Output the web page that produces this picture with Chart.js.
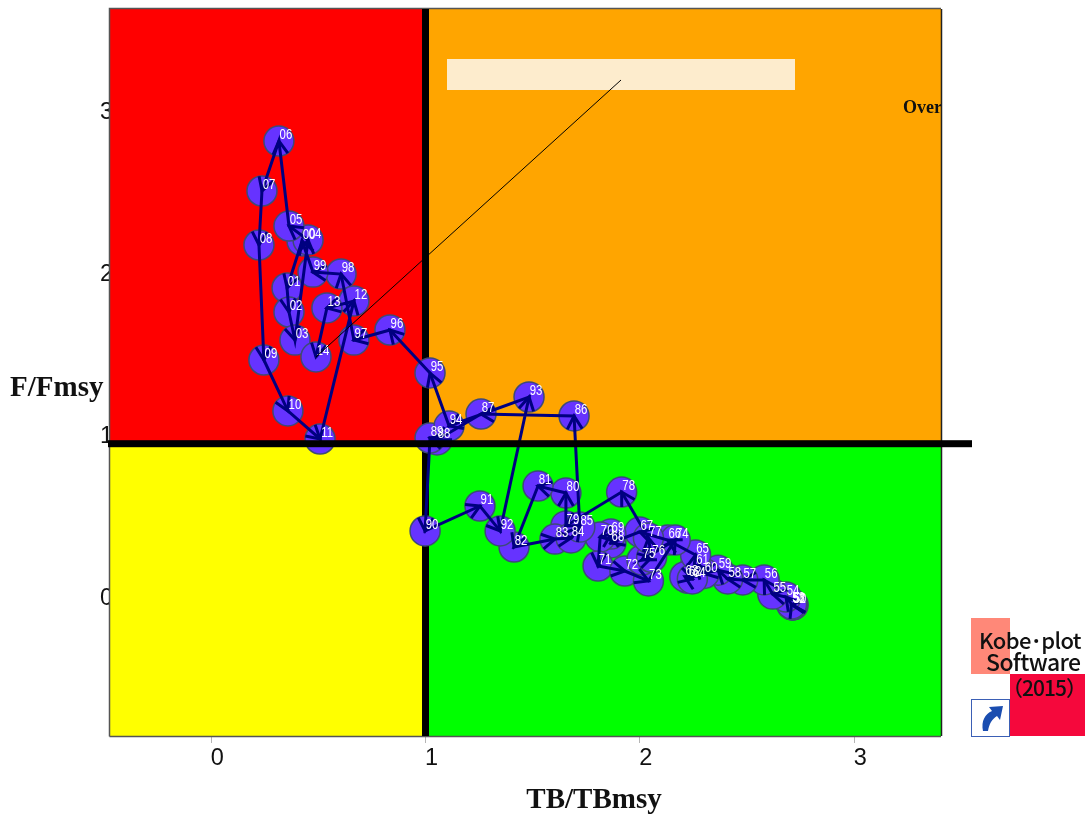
<!DOCTYPE html>
<html>
<head>
<meta charset="utf-8">
<title>Kobe plot</title>
<script src="https://cdn.jsdelivr.net/npm/chart.js@4"></script>
<style>
  body { margin: 0; background: #fff; }
  #wrap { position: relative; width: 1085px; height: 818px; overflow: hidden; }
  canvas { display: block; }
  .logo { position: absolute; }
  .logoText { position: absolute; font-family: "Noto Sans CJK JP"; font-weight: 500; color: #111; white-space: nowrap; line-height: 1; }
</style>
</head>
<body>
<div id="wrap">
  <canvas id="kobeChart" width="1085" height="818"></canvas>
  <div class="logo" style="left:971px;top:618px;width:39px;height:56px;background:#ff8878"></div>
  <div class="logo" style="left:1010px;top:674px;width:75px;height:62px;background:#f5083c"></div>
  <div class="logo" style="left:971px;top:699px;width:37px;height:36px;background:#fff;border:1px solid #3b5fb5"></div>
  <svg class="logo" style="left:971px;top:699px" width="38" height="37" viewBox="0 0 38 37">
    <path d="M12 32 C10 22 14 15 21 12 L18 8 L32 7 L29 21 L26 17 C21 20 18 25 17 32 Z" fill="#1a4db0"/>
  </svg>
  <div class="logoText" style="left:979px;top:628px;font-size:22px;letter-spacing:-0.6px">Kobe･plot</div>
  <div class="logoText" style="left:986px;top:650px;font-size:23px;letter-spacing:-0.6px">Software</div>
  <div class="logoText" style="left:1002px;top:677px;font-size:21px;letter-spacing:-1px">（2015）</div>
</div>
<script>
// ======================== Data ========================
const years = [
  '50', '51', '52', '53', '54', '55', '56', '57', '58', '59',
  '60', '61', '62', '63', '64', '65', '66', '67', '68', '69',
  '70', '71', '72', '73', '74', '75', '76', '77', '78', '79',
  '80', '81', '82', '83', '84', '85', '86', '87', '88', '89',
  '90', '91', '92', '93', '94', '95', '96', '97', '98', '99',
  '00', '01', '02', '03', '04', '05', '06', '07', '08', '09',
  '10', '11', '12', '13', '14'
];
const tbRatio = [
  2.715, 2.712, 2.71, 2.708, 2.682, 2.62, 2.58, 2.48, 2.41, 2.365,
  2.30, 2.26, 2.225, 2.21, 2.245, 2.26, 2.13, 2.00, 1.865, 1.865,
  1.815, 1.805, 1.93, 2.04, 2.165, 2.01, 2.055, 2.04, 1.915, 1.655,
  1.655, 1.525, 1.413, 1.604, 1.679, 1.72, 1.693, 1.259, 1.054, 1.021,
  0.998, 1.254, 1.348, 1.483, 1.11, 1.021, 0.834, 0.666, 0.606, 0.475,
  0.424, 0.354, 0.363, 0.391, 0.452, 0.363, 0.316, 0.237, 0.223, 0.246,
  0.358, 0.508, 0.666, 0.54, 0.489
];
const fRatio = [
  0.006, 0.006, 0.006, 0.012, 0.055, 0.073, 0.16, 0.16, 0.166, 0.22,
  0.20, 0.25, 0.17, 0.18, 0.166, 0.314, 0.406, 0.456, 0.388, 0.443,
  0.425, 0.246, 0.215, 0.154, 0.406, 0.283, 0.30, 0.419, 0.702, 0.493,
  0.696, 0.739, 0.363, 0.412, 0.419, 0.486, 1.171, 1.183, 1.023, 1.035,
  0.462, 0.616, 0.462, 1.288, 1.109, 1.436, 1.701, 1.639, 2.046, 2.058,
  2.25, 1.96, 1.812, 1.639, 2.256, 2.342, 2.866, 2.558, 2.225, 1.516,
  1.202, 1.029, 1.88, 1.837, 1.535
];
const xTicks = [0, 1, 2, 3];
const yTicks = [0, 1, 2, 3];
const xRange = [-0.472, 3.405];
const yRange = [-0.802, 3.68];
const refLine = 1;
const xTitle = 'TB/TBmsy';
const yTitle = 'F/Fmsy';
const overText = 'Over';

const points = years.map((y, i) => ({ x: tbRatio[i], y: fRatio[i] }));

// ======================== Hàm vẽ phụ ========================
function drawArrowHead(ctx, from, to) {
  const angle = Math.atan2(to.y - from.y, to.x - from.x);
  const len = 15;
  const spread = 0.52;
  ctx.beginPath();
  ctx.moveTo(to.x - len * Math.cos(angle - spread), to.y - len * Math.sin(angle - spread));
  ctx.lineTo(to.x, to.y);
  ctx.lineTo(to.x - len * Math.cos(angle + spread), to.y - len * Math.sin(angle + spread));
  ctx.stroke();
}

const quadrantPlugin = {
  id: 'quadrants',
  beforeDatasetsDraw(chart) {
    const { ctx, chartArea: a, scales: { x, y } } = chart;
    const cx = x.getPixelForValue(refLine);
    const cy = y.getPixelForValue(refLine);
    ctx.save();
    ctx.fillStyle = '#ff0000';
    ctx.fillRect(a.left, a.top, cx - a.left, cy - a.top);
    ctx.fillStyle = '#ffa500';
    ctx.fillRect(cx, a.top, a.right - cx, cy - a.top);
    ctx.fillStyle = '#ffff00';
    ctx.fillRect(a.left, cy, cx - a.left, a.bottom - cy);
    ctx.fillStyle = '#00ff00';
    ctx.fillRect(cx, cy, a.right - cx, a.bottom - cy);

    // khung
    ctx.strokeStyle = '#555';
    ctx.lineWidth = 1.5;
    ctx.beginPath();
    ctx.moveTo(a.left - 0.5, a.bottom + 0.5);
    ctx.lineTo(a.left - 0.5, a.top - 0.5);
    ctx.lineTo(a.right, a.top - 0.5);
    ctx.moveTo(a.left - 0.5, a.bottom + 0.5);
    ctx.lineTo(a.right, a.bottom + 0.5);
    ctx.stroke();
    ctx.strokeStyle = '#222';
    ctx.beginPath();
    ctx.moveTo(a.right + 0.5, a.top);
    ctx.lineTo(a.right + 0.5, a.bottom);
    ctx.stroke();

    // ô chú thích
    ctx.fillStyle = '#fdeccd';
    ctx.fillRect(447, 59, 348, 31);

    // chữ Over bị cắt ở mép phải
    ctx.save();
    ctx.beginPath();
    ctx.rect(a.left, a.top, a.right - a.left, a.bottom - a.top);
    ctx.clip();
    ctx.fillStyle = '#111';
    ctx.font = 'bold 18px "Liberation Serif"';
    ctx.textAlign = 'left';
    ctx.textBaseline = 'middle';
    ctx.fillText(overText, 903, 108);
    ctx.restore();

    // đường dọc x = 1
    ctx.fillStyle = '#000';
    ctx.fillRect(cx - 3.5, a.top, 7, a.bottom - a.top);
    ctx.restore();
  },
  afterDatasetsDraw(chart) {
    const { ctx, chartArea: a, scales: { x, y } } = chart;
    const px = points.map(p => ({ x: x.getPixelForValue(p.x), y: y.getPixelForValue(p.y) }));
    ctx.save();

    // mũi tên
    ctx.strokeStyle = '#000080';
    ctx.lineWidth = 3;
    ctx.lineJoin = 'miter';
    for (let i = 1; i < px.length; i++) drawArrowHead(ctx, px[i - 1], px[i]);

    // nhãn năm (chữ hẹp)
    ctx.fillStyle = '#fff';
    ctx.font = '15px "Liberation Sans"';
    ctx.textAlign = 'center';
    ctx.textBaseline = 'middle';
    years.forEach((label, i) => {
      ctx.save();
      ctx.translate(px[i].x + 7, px[i].y - 6);
      ctx.scale(0.76, 1);
      ctx.fillText(label, 0, 0);
      ctx.restore();
    });

    // đường mảnh từ ô chú thích tới năm cuối
    const last = px[px.length - 1];
    ctx.strokeStyle = '#000';
    ctx.lineWidth = 1;
    ctx.beginPath();
    ctx.moveTo(621, 80);
    ctx.lineTo(last.x, last.y);
    ctx.stroke();

    // đường ngang y = 1, kéo dài ra ngoài khung
    ctx.fillStyle = '#000';
    ctx.fillRect(a.left - 2, y.getPixelForValue(refLine) - 3.5, 864, 7);

    // tiêu đề trục
    ctx.fillStyle = '#111';
    ctx.font = 'bold 29px "Liberation Serif"';
    ctx.textBaseline = 'middle';
    ctx.textAlign = 'center';
    ctx.fillText(xTitle, 594, 801);
    ctx.textAlign = 'left';
    ctx.fillText(yTitle, 10, 389);
    ctx.restore();
  }
};

// ======================== Biểu đồ ========================
new Chart(document.getElementById('kobeChart').getContext('2d'), {
  type: 'scatter',
  data: {
    datasets: [
      {
        label: 'path',
        data: points,
        showLine: true,
        borderColor: '#000080',
        borderWidth: 3,
        pointRadius: 0,
        order: 1
      },
      {
        label: 'years',
        data: points,
        showLine: false,
        pointRadius: 15,
        pointBackgroundColor: '#6633ff',
        pointBorderColor: '#3d4a78',
        pointBorderWidth: 1.5,
        order: 2
      }
    ]
  },
  options: {
    responsive: false,
    animation: false,
    layout: { autoPadding: false, padding: { top: 9, right: 144, left: 0, bottom: 0 } },
    plugins: { legend: { display: false }, tooltip: { enabled: false } },
    scales: {
      x: {
        type: 'linear',
        min: xRange[0],
        max: xRange[1],
        afterBuildTicks: scale => { scale.ticks = xTicks.map(v => ({ value: v })); },
        afterFit: scale => {
          scale.height = 82;
          scale.paddingLeft = 0;
          scale.paddingRight = 0;
        },
        grid: { drawOnChartArea: false, tickLength: 7, color: '#b5b5b5', lineWidth: 1 },
        border: { display: false },
        ticks: {
          font: { family: '"Liberation Sans"', size: 23.5 },
          color: '#111',
          maxRotation: 0,
          labelOffset: 6,
          padding: 1
        }
      },
      y: {
        type: 'linear',
        min: yRange[0],
        max: yRange[1],
        afterBuildTicks: scale => { scale.ticks = yTicks.map(v => ({ value: v })); },
        afterFit: scale => {
          scale.width = 110;
          scale.paddingTop = 0;
          scale.paddingBottom = 0;
        },
        grid: { display: false },
        border: { display: false },
        ticks: {
          font: { family: '"Liberation Sans"', size: 23.5 },
          color: '#111',
          labelOffset: -7,
          padding: -11
        }
      }
    }
  },
  plugins: [quadrantPlugin]
});
</script>
</body>
</html>
